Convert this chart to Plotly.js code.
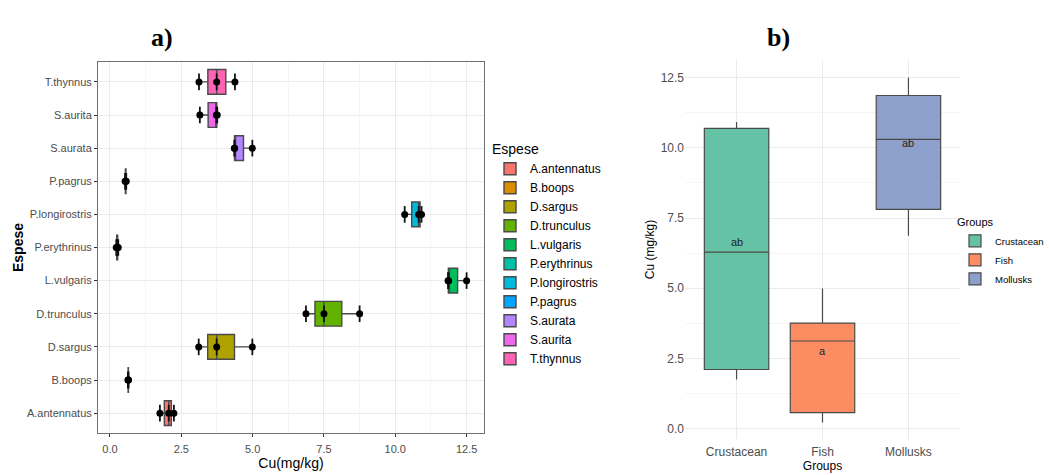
<!DOCTYPE html>
<html><head><meta charset="utf-8">
<script src="https://cdn.plot.ly/plotly-3.0.1.min.js"></script>
<style>html,body{margin:0;padding:0;background:#fff}#chart{width:1049px;height:475px}</style>
</head><body><div id="chart"></div>
<script>
// ---- data ----
const species = ['A.antennatus','B.boops','D.sargus','D.trunculus','L.vulgaris','P.erythrinus','P.longirostris','P.pagrus','S.aurata','S.aurita','T.thynnus'];
const speciesGroup = ['Crustacean','Fish','Fish','Mollusks','Mollusks','Fish','Crustacean','Fish','Fish','Fish','Fish'];
const cuAntennatus   = [1.75, 2.06, 2.24];
const cuBoops        = [0.63, 0.64, 0.65];
const cuSargus       = [3.11, 3.74, 4.99];
const cuTrunculus    = [6.87, 7.50, 8.75];
const cuVulgaris     = [11.85, 11.87, 12.50];
const cuErythrinus   = [0.22, 0.25, 0.29];
const cuLongirostris = [10.33, 10.82, 10.92];
const cuPagrus       = [0.53, 0.55, 0.57];
const cuAurata       = [4.36, 4.37, 4.99];
const cuAurita       = [3.15, 3.73, 3.76];
const cuThynnus      = [3.12, 3.74, 4.38];
const groups = ['Crustacean','Fish','Mollusks'];
const groupLetters = ['ab','a','ab'];
const cuTicks = [0, 2.5, 5, 7.5, 10, 12.5];

// ---- styles ----
const speciesColors = ['#F8766D','#DB8E00','#AEA200','#64B200','#00BD5C','#00C1A7','#00BADE','#00A6FF','#B385FF','#EF67EB','#FF63B6'];
const groupColors = ['#66C2A5','#FC8D62','#8DA0CB'];
const W = 1049, H = 475;
const FONT = 'Liberation Sans, Arial, sans-serif';

const speciesValues = [cuAntennatus, cuBoops, cuSargus, cuTrunculus, cuVulgaris, cuErythrinus, cuLongirostris, cuPagrus, cuAurata, cuAurita, cuThynnus];

function quant(sorted, p) {
  const h = (sorted.length - 1) * p, lo = Math.floor(h), hi = Math.ceil(h);
  return sorted[lo] + (h - lo) * (sorted[hi] - sorted[lo]);
}
function boxStats(arr) {
  const s = [...arr].sort((a, b) => a - b);
  const q1 = quant(s, 0.25), med = quant(s, 0.5), q3 = quant(s, 0.75), iqr = q3 - q1;
  const lf = Math.min(...s.filter(v => v >= q1 - 1.5 * iqr));
  const uf = Math.max(...s.filter(v => v <= q3 + 1.5 * iqr));
  const mean = s.reduce((a, b) => a + b, 0) / s.length;
  return {q1, med, q3, lf, uf, mean};
}

const traces = [];
// panel a) boxes
species.forEach((sp, i) => {
  const st = boxStats(speciesValues[i]);
  traces.push({
    type: 'box', orientation: 'h', name: sp, y: [i],
    q1: [st.q1], median: [st.med], q3: [st.q3], lowerfence: [st.lf], upperfence: [st.uf],
    width: 0.75, whiskerwidth: 0, fillcolor: speciesColors[i],
    line: {color: '#4a4a4a', width: 1.4}, boxpoints: false,
    xaxis: 'x', yaxis: 'y', legend: 'legend', hoverinfo: 'skip'
  });
});
// panel a) points with vertical ranges
const ptX = [], ptY = [];
speciesValues.forEach((vals, i) => vals.forEach(v => { ptX.push(v); ptY.push(i); }));
traces.push({
  type: 'scatter', mode: 'markers', x: ptX, y: ptY, showlegend: false,
  marker: {color: '#000', size: 7},
  error_y: {type: 'constant', value: 0.25, color: '#111', thickness: 1.8, width: 0},
  xaxis: 'x', yaxis: 'y', hoverinfo: 'skip'
});
// panel b) group boxes
const annotations = [];
groups.forEach((g, j) => {
  const vals = [];
  species.forEach((sp, i) => { if (speciesGroup[i] === g) vals.push(...speciesValues[i]); });
  const st = boxStats(vals);
  traces.push({
    type: 'box', name: g, x: [j],
    q1: [st.q1], median: [st.med], q3: [st.q3], lowerfence: [st.lf], upperfence: [st.uf],
    width: 0.75, whiskerwidth: 0, fillcolor: groupColors[j],
    line: {color: '#4a4a4a', width: 1.2}, boxpoints: false,
    xaxis: 'x2', yaxis: 'y2', legend: 'legend2', hoverinfo: 'skip'
  });
  annotations.push({xref: 'x2', yref: 'y2', x: j, y: st.mean, text: groupLetters[j], showarrow: false,
    yanchor: 'bottom', font: {family: FONT, size: 11, color: '#222'}});
});
annotations.push({xref: 'paper', yref: 'paper', x: 149 / W, y: 1 - 21 / H, text: '<b>a)</b>', showarrow: false,
  font: {family: 'Liberation Serif, Times New Roman, serif', size: 26, color: '#000'}});
annotations.push({xref: 'paper', yref: 'paper', x: 792 / W, y: 1 - 21 / H, text: '<b>b)</b>', showarrow: false,
  font: {family: 'Liberation Serif, Times New Roman, serif', size: 26, color: '#000'}});

const layout = {
  width: W, height: H, margin: {l: 0, r: 0, t: 0, b: 0},
  paper_bgcolor: '#fff', plot_bgcolor: 'rgba(0,0,0,0)',
  font: {family: FONT, color: '#000'},
  showlegend: true,
  xaxis: {
    domain: [98 / W, 484 / W], range: [-0.42, 13.11], anchor: 'y',
    tickvals: cuTicks, tickformat: '.1f', ticks: 'outside', ticklen: 3, tickcolor: '#333',
    tickfont: {size: 11, color: '#4d4d4d'}, ticklabelstandoff: 3,
    showgrid: true, gridcolor: '#ebebeb', zeroline: false,
    minor: {showgrid: true, gridcolor: '#f5f5f5', dtick: 1.25, tick0: 0},
    showline: true, mirror: true, linecolor: '#707070', linewidth: 1,
    title: {text: 'Cu(mg/kg)', font: {size: 14, color: '#000'}, standoff: 3}
  },
  yaxis: {
    domain: [1 - 433 / H, 1 - 62 / H], range: [-0.6, 10.6], anchor: 'x',
    tickvals: species.map((s, i) => i), ticktext: species,
    ticks: 'outside', ticklen: 3, tickcolor: '#333',
    tickfont: {size: 11, color: '#4d4d4d'},
    showgrid: true, gridcolor: '#ebebeb', zeroline: false,
    showline: true, mirror: true, linecolor: '#707070', linewidth: 1,
    title: {text: '<b>Espese</b>', font: {size: 14, color: '#000'}, standoff: 0}
  },
  xaxis2: {
    domain: [685 / W, 960 / W], range: [-0.6, 2.6], anchor: 'y2',
    tickvals: [0, 1, 2], ticktext: groups, ticks: '',
    tickfont: {size: 12, color: '#4d4d4d'}, ticklabelstandoff: 4,
    showgrid: true, gridcolor: '#ebebeb', zeroline: false, showline: false,
    title: {text: 'Groups', font: {size: 12, color: '#000'}, standoff: 3}
  },
  yaxis2: {
    domain: [1 - 439 / H, 1 - 60 / H], range: [-0.37, 13.13], anchor: 'x2',
    tickvals: cuTicks, tickformat: '.1f', ticks: '',
    tickfont: {size: 12, color: '#4d4d4d'},
    showgrid: true, gridcolor: '#ebebeb', zeroline: false, showline: false,
    minor: {showgrid: true, gridcolor: '#f5f5f5', dtick: 1.25, tick0: 0},
    title: {text: 'Cu (mg/kg)', font: {size: 12, color: '#000'}, standoff: 3}
  },
  legend: {
    x: 490 / W, y: 1 - 136 / H, xanchor: 'left', yanchor: 'top',
    bgcolor: 'rgba(0,0,0,0)', font: {size: 12, color: '#000'},
    title: {text: 'Espese', font: {size: 14, color: '#000'}}
  },
  legend2: {
    x: 1, y: 1 - 212 / H, xanchor: 'right', yanchor: 'top',
    bgcolor: 'rgba(0,0,0,0)', font: {size: 9.5, color: '#000'},
    title: {text: 'Groups', font: {size: 11, color: '#000'}}
  },
  annotations: annotations
};

Plotly.newPlot('chart', traces, layout, {staticPlot: true, displayModeBar: false});
</script>
</body></html>
